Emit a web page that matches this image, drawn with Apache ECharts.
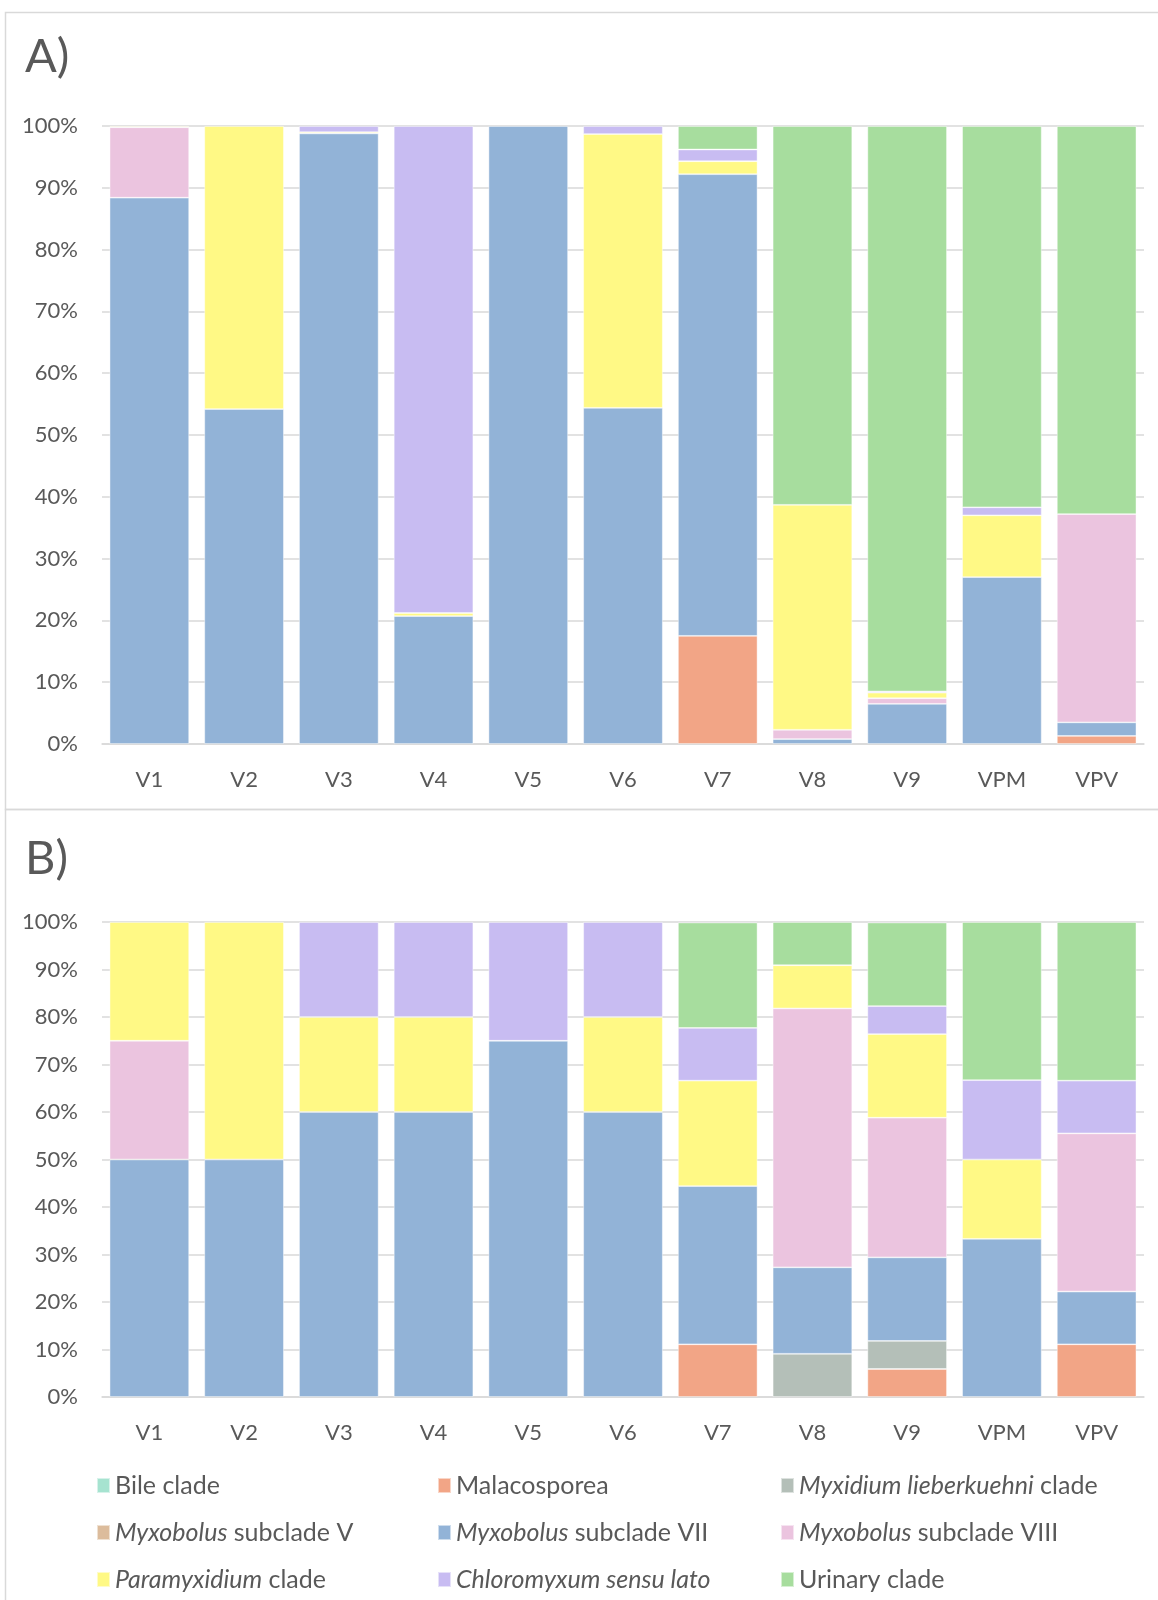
<!DOCTYPE html>
<html>
<head>
<meta charset="utf-8">
<script src="https://cdn.jsdelivr.net/npm/echarts@6/dist/echarts.min.js"></script>
<style>html,body{margin:0;padding:0;background:#fff}#c{width:1158px;height:1600px}</style>
</head>
<body>
<div id="c"></div>
<script>
const categories = ['V1','V2','V3','V4','V5','V6','V7','V8','V9','VPM','VPV'];
const yTicks = [0,10,20,30,40,50,60,70,80,90,100];

// Panel A (%)
const bileA     = [0,0,0,0,0,0,0,0,0,0,0];
const malacoA   = [0,0,0,0,0,0,17.5,0,0,0,1.3];
const myxidiumA = [0,0,0,0,0,0,0,0,0,0,0];
const mxVA      = [0,0,0,0,0,0,0,0,0,0,0];
const mxVIIA    = [88.4,54.2,98.8,20.7,100,54.4,74.7,0.8,6.5,27.0,2.2];
const mxVIIIA   = [11.4,0,0,0,0,0,0,1.5,0.9,0,33.7];
const paraA     = [0.2,45.8,0.2,0.5,0,44.3,2.1,36.4,0.9,10.0,0];
const chloroA   = [0,0,1.0,78.8,0,1.3,1.9,0,0.2,1.3,0];
const urinaryA  = [0,0,0,0,0,0,3.8,61.3,91.5,61.7,62.8];

// Panel B (%)
const bileB     = [0,0,0,0,0,0,0,0,0,0,0];
const malacoB   = [0,0,0,0,0,0,11.1,0,5.9,0,11.1];
const myxidiumB = [0,0,0,0,0,0,0,9.1,5.9,0,0];
const mxVB      = [0,0,0,0,0,0,0,0,0,0,0];
const mxVIIB    = [50,50,60,60,75,60,33.3,18.2,17.6,33.3,11.1];
const mxVIIIB   = [25,0,0,0,0,0,0,54.5,29.4,0,33.3];
const paraB     = [25,50,20,20,0,20,22.2,9.1,17.6,16.7,0];
const chloroB   = [0,0,20,20,25,20,11.1,0,5.9,16.7,11.1];
const urinaryB  = [0,0,0,0,0,0,22.2,9.1,17.6,33.3,33.4];

const seriesNames = ['Bile clade','Malacosporea','Myxidium lieberkuehni clade','Myxobolus subclade V','Myxobolus subclade VII','Myxobolus subclade VIII','Paramyxidium clade','Chloromyxum sensu lato','Urinary clade'];
const colors = ['#a6e3d0','#f2a586','#b4bfb8','#dcbc9c','#92b3d7','#ebc4df','#fff985','#c8bcf2','#a7dd9e'];
const dataA = [bileA,malacoA,myxidiumA,mxVA,mxVIIA,mxVIIIA,paraA,chloroA,urinaryA];
const dataB = [bileB,malacoB,myxidiumB,mxVB,mxVIIB,mxVIIIB,paraB,chloroB,urinaryB];

const FONT = 'Lato';
const TXT = '#595959';
const GRIDC = '#d9d9d9';

function clean(arr){ return arr.map(v => v === 0 ? '-' : v); }

const series = [];
[dataA, dataB].forEach((d, gi) => {
  d.forEach((arr, si) => {
    series.push({
      name: seriesNames[si],
      type: 'bar',
      stack: 'p' + gi,
      xAxisIndex: gi, yAxisIndex: gi,
      barCategoryGap: '16%',
      itemStyle: {color: colors[si], borderColor: 'rgba(255,255,255,0.55)', borderWidth: 0.8},
      emphasis: {disabled: true},
      data: clean(arr)
    });
  });
});

function xAx(gi){
  return {gridIndex: gi, type: 'category', data: categories,
    axisLine: {show: true, lineStyle: {color: GRIDC, width: 1.5}},
    axisTick: {show: false},
    axisLabel: {color: TXT, fontFamily: FONT, fontSize: 22, margin: 25}};
}
function yAx(gi){
  return {gridIndex: gi, type: 'value', min: yTicks[0], max: yTicks[yTicks.length-1], interval: yTicks[1]-yTicks[0],
    axisLine: {show: false}, axisTick: {show: false},
    splitLine: {lineStyle: {color: GRIDC, width: 1.5}},
    axisLabel: {color: TXT, fontFamily: FONT, fontSize: 22, margin: 24, formatter: '{value}%'}};
}

const italicPart = {
  'Myxidium lieberkuehni clade': ['Myxidium lieberkuehni', ' clade'],
  'Myxobolus subclade V': ['Myxobolus', ' subclade V'],
  'Myxobolus subclade VII': ['Myxobolus', ' subclade VII'],
  'Myxobolus subclade VIII': ['Myxobolus', ' subclade VIII'],
  'Paramyxidium clade': ['Paramyxidium', ' clade'],
  'Chloromyxum sensu lato': ['Chloromyxum sensu lato', '']
};
function legendFmt(name){
  const p = italicPart[name];
  if (!p) return '{n|' + name + '}';
  return '{i|' + p[0] + '}' + (p[1] ? '{n|' + p[1] + '}' : '');
}
const richStyle = {
  i: {fontStyle: 'italic', fontFamily: FONT, fontSize: 25, color: TXT, lineHeight: 28},
  n: {fontFamily: FONT, fontSize: 25, color: TXT, lineHeight: 28}
};
function legendCol(names, left){
  return {orient: 'vertical', left: left, top: 1468, itemWidth: 13, itemHeight: 15, itemGap: 22,
    icon: 'rect', selectedMode: false, data: names, formatter: legendFmt,
    textStyle: {rich: richStyle, fontFamily: FONT, fontSize: 25, color: TXT}};
}

const option = {
  animation: false,
  backgroundColor: '#fff',
  color: colors,
  grid: [
    {left: 102, right: 14, top: 126, bottom: 856},
    {left: 102, right: 14, top: 922, bottom: 203}
  ],
  xAxis: [xAx(0), xAx(1)],
  yAxis: [yAx(0), yAx(1)],
  legend: [
    legendCol([seriesNames[0], seriesNames[3], seriesNames[6]], 91),
    legendCol([seriesNames[1], seriesNames[4], seriesNames[7]], 432),
    legendCol([seriesNames[2], seriesNames[5], seriesNames[8]], 775)
  ],
  graphic: [
    {type: 'rect', shape: {x: 5.5, y: 12.5, width: 1160, height: 797}, style: {fill: 'none', stroke: GRIDC, lineWidth: 1.5}, silent: true},
    {type: 'rect', shape: {x: 5.5, y: 809.5, width: 1160, height: 800}, style: {fill: 'none', stroke: GRIDC, lineWidth: 1.5}, silent: true},
    {type: 'text', left: 25, top: 33, style: {text: 'A)', fontFamily: FONT, fontSize: 47, fill: TXT}},
    {type: 'text', left: 25, top: 835, style: {text: 'B)', fontFamily: FONT, fontSize: 47, fill: TXT}}
  ],
  series: series
};

echarts.init(document.getElementById('c'), null, {renderer: 'canvas'}).setOption(option);
</script>
</body>
</html>
